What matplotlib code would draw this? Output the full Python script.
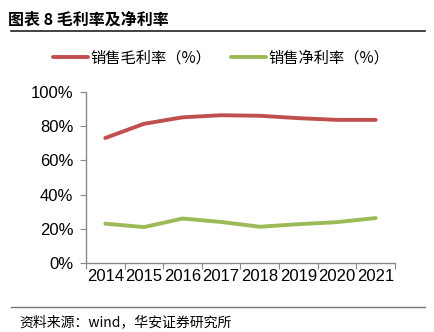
import matplotlib
matplotlib.use("Agg")
import matplotlib.pyplot as plt
from matplotlib.ticker import PercentFormatter

plt.rcParams["font.family"] = ["Liberation Sans", "Noto Sans CJK SC", "DejaVu Sans"]

years = ["2014", "2015", "2016", "2017", "2018", "2019", "2020", "2021"]
gross_margin = [73.1, 81.4, 85.2, 86.4, 86.1, 84.7, 83.7, 83.7]
net_margin = [23.0, 21.0, 26.0, 24.0, 21.2, 22.7, 23.9, 26.3]
series_names = ["销售毛利率（%）", "销售净利率（%）"]

fig = plt.figure(figsize=(4.35, 3.32), dpi=100)
ax = fig.add_axes([0.1977, 0.2078, 0.7103, 0.5151])

x = list(range(len(years)))
l1, = ax.plot(x, gross_margin, color="#C0504D", lw=2.8, solid_capstyle="round")
l2, = ax.plot(x, net_margin, color="#9BBB59", lw=2.8, solid_capstyle="round")

ax.set_ylim(0, 100)
ax.set_yticks(range(0, 101, 20))
ax.yaxis.set_major_formatter(PercentFormatter(decimals=0))
ax.set_xlim(-0.5, len(years) - 0.5)
# category boundaries carry the tick marks, labels sit at the centres
ax.set_xticks([i - 0.5 for i in range(len(years) + 1)])
ax.set_xticklabels([])
ax.set_xticks(x, minor=True)
ax.set_xticklabels(years, minor=True)
ax.tick_params(axis="x", which="minor", length=0, labelsize=12, pad=4)
ax.tick_params(axis="x", which="major", length=4, color="#888888", direction="out")
ax.tick_params(axis="y", length=4, color="#888888", labelsize=12, pad=5)

for s in ["top", "right"]:
    ax.spines[s].set_visible(False)
for s in ["left", "bottom"]:
    ax.spines[s].set_color("#888888")
    ax.spines[s].set_linewidth(1.0)

fig.legend([l1, l2], series_names, loc="center left", bbox_to_anchor=(0.09, 0.825),
           ncol=2, frameon=False, handlelength=2.3, handletextpad=0.15,
           columnspacing=1.3, prop={"family": ["Noto Sans CJK SC"], "size": 11})

# title and source
fig.text(0.018, 0.942, "图表 8 毛利率及净利率", fontsize=11.5, fontweight="bold",
         family=["Noto Sans CJK SC"], va="center", ha="left")
fig.add_artist(plt.Line2D([0.025, 0.978], [0.908, 0.908], color="#222222", lw=1.2))
fig.add_artist(plt.Line2D([0.025, 0.978], [0.076, 0.076], color="#777777", lw=1.0))
fig.text(0.045, 0.03, "资料来源：wind，华安证券研究所", fontsize=10,
         family=["Noto Sans CJK SC", "DejaVu Sans"], va="center", ha="left")

fig.savefig("out.png", dpi=100)
